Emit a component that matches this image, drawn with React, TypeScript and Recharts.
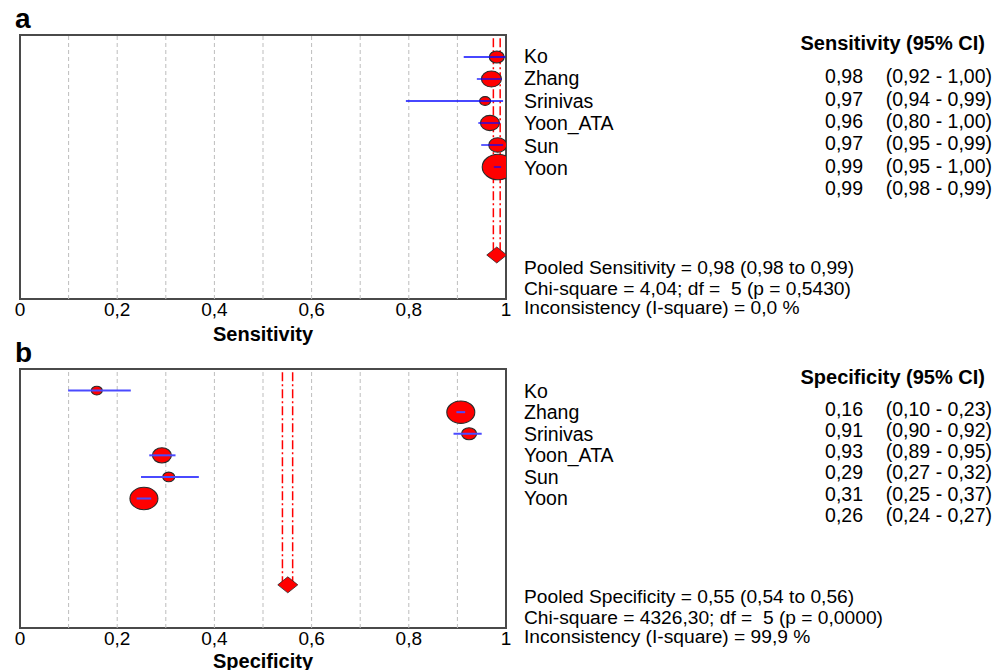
// Forest plots — pooled sensitivity / specificity across 6 studies.
import { ScatterChart, Scatter, XAxis, YAxis, ReferenceLine, ReferenceArea } from 'recharts';

const studies = ['Ko', 'Zhang', 'Srinivas', 'Yoon_ATA', 'Sun', 'Yoon'];
const rows = [1, 2, 3, 4, 5, 6];
const poolRow = 10;
const xTicks = [0, 0.2, 0.4, 0.6, 0.8, 1];
const gridX = [0.1, 0.2, 0.3, 0.4, 0.5, 0.6, 0.7, 0.8, 0.9];

// panel a — sensitivity (as plotted)
const sensEst = [0.981, 0.970, 0.957, 0.967, 0.983, 0.984];
const sensLo = [0.913, 0.940, 0.794, 0.943, 0.949, 0.975];
const sensHi = [0.999, 0.991, 0.994, 0.988, 0.994, 0.990];
const sensW = [15, 20, 11, 19, 18, 32];
const sensPool = [0.981, 0.974, 0.988]; // est, lo, hi
const sensVal = ['0,98', '0,97', '0,96', '0,97', '0,99', '0,99'];
const sensCI = ['(0,92 - 1,00)', '(0,94 - 0,99)', '(0,80 - 1,00)', '(0,95 - 0,99)', '(0,95 - 1,00)', '(0,98 - 0,99)'];
const sensStats = ['Pooled Sensitivity = 0,98 (0,98 to 0,99)', 'Chi-square = 4,04; df =  5 (p = 0,5430)', 'Inconsistency (I-square) = 0,0 %'];

// panel b — specificity
const specEst = [0.158, 0.907, 0.924, 0.292, 0.306, 0.255];
const specLo = [0.099, 0.898, 0.892, 0.266, 0.249, 0.240];
const specHi = [0.228, 0.916, 0.950, 0.320, 0.368, 0.270];
const specW = [11, 28, 15, 19, 12, 28];
const specPool = [0.551, 0.540, 0.561];
const specVal = ['0,16', '0,91', '0,93', '0,29', '0,31', '0,26'];
const specCI = ['(0,10 - 0,23)', '(0,90 - 0,92)', '(0,89 - 0,95)', '(0,27 - 0,32)', '(0,25 - 0,37)', '(0,24 - 0,27)'];
const specStats = ['Pooled Specificity = 0,55 (0,54 to 0,56)', 'Chi-square = 4326,30; df =  5 (p = 0,0000)', 'Inconsistency (I-square) = 99,9 %'];

const FONT = '"Liberation Sans", Arial, Helvetica, sans-serif';
const fmt = (v: number) => (v === 0 ? '0' : v === 1 ? '1' : v.toFixed(1).replace('.', ','));

const Bubble = (p: any) => {
  const rx = p.payload.w / 2;
  return <ellipse cx={p.cx} cy={p.cy} rx={rx} ry={rx * 0.8} fill="#ff0000" stroke="#2a2a2a" strokeWidth={1.1} />;
};
const Diamond = (p: any) => (
  <polygon
    points={`${p.cx - 10},${p.cy} ${p.cx},${p.cy - 8} ${p.cx + 10},${p.cy} ${p.cx},${p.cy + 8}`}
    fill="#ff0000"
    stroke="#2a2a2a"
    strokeWidth={0.8}
  />
);
const Nothing = () => <g />;

function Forest({ est, lo, hi, w, pool, title, ciColor, ciWidth, height, top, axisH, labelOffset }: any) {
  const pts = rows.map((r, i) => ({ x: est[i], y: r, w: w[i] }));
  return (
    <ScatterChart width={520} height={height} margin={{ top, right: 14, bottom: 0, left: 20 }}>
      <XAxis
        type="number"
        dataKey="x"
        domain={[0, 1]}
        allowDataOverflow
        ticks={xTicks}
        tickFormatter={fmt}
        tickLine={false}
        axisLine={false}
        tickSize={3}
        tickMargin={1}
        height={axisH}
        interval={0}
        tick={{ fontSize: 19, fill: '#000', fontFamily: FONT }}
        label={{ value: title, position: 'insideBottom', offset: labelOffset, fill: '#000', fontSize: 20, fontWeight: 'bold', fontFamily: FONT }}
      />
      <YAxis type="number" dataKey="y" domain={[0, 12]} reversed hide allowDataOverflow />
      <ReferenceArea x1={0} x2={1} y1={0} y2={12} fill="#fff" fillOpacity={0} stroke="#4a4a4a" strokeWidth={2} />
      {gridX.map((g) => (
        <ReferenceLine key={g} x={g} stroke="#bdbdbd" strokeDasharray="4 3" />
      ))}
      {[pool[1], pool[2]].map((px, k) => (
        <Scatter
          key={'pl' + k}
          data={[{ x: px, y: 0.15 }, { x: px, y: poolRow }]}
          shape={Nothing}
          line={{ stroke: '#ff0000', strokeWidth: 1.5, strokeDasharray: '9 3 2 3' }}
          isAnimationActive={false}
        />
      ))}
      <Scatter data={pts} shape={Bubble} isAnimationActive={false} />
      {rows.map((r, i) => (
        <Scatter
          key={'ci' + i}
          data={[{ x: lo[i], y: r }, { x: hi[i], y: r }]}
          shape={Nothing}
          line={{ stroke: ciColor, strokeWidth: ciWidth }}
          isAnimationActive={false}
        />
      ))}
      <Scatter data={[{ x: pool[0], y: poolRow }]} shape={Diamond} isAnimationActive={false} />
    </ScatterChart>
  );
}

function Side({ header, vals, cis, stats, nameY, nameStep, valY, valStep, headY, statY }: any) {
  return (
    <g fontFamily={FONT} fill="#000">
      <text x={985} y={headY} fontSize={20} fontWeight="bold" textAnchor="end">{header}</text>
      {studies.map((s, i) => (
        <text key={s} x={524} y={nameY + i * nameStep} fontSize={19.5}>{s}</text>
      ))}
      {vals.map((v: string, i: number) => (
        <g key={i}>
          <text x={863} y={valY + i * valStep} fontSize={19.5} textAnchor="end">{v}</text>
          <text x={992} y={valY + i * valStep} fontSize={19.5} textAnchor="end">{cis[i]}</text>
        </g>
      ))}
      {stats.map((t: string, i: number) => (
        <text key={t} x={524} y={statY[i]} fontSize={19.2} xmlSpace="preserve" style={{ whiteSpace: 'pre' }}>{t}</text>
      ))}
    </g>
  );
}

export default function App() {
  return (
    <div style={{ position: 'absolute', left: 0, top: 0, width: 1005, height: 670, background: '#fff', overflow: 'hidden' }}>
      <div style={{ position: 'absolute', left: 0, top: 0 }}>
        <Forest est={sensEst} lo={sensLo} hi={sensHi} w={sensW} pool={sensPool} title="Sensitivity"
          ciColor="#0a0aff" ciWidth={1.3} height={345} top={35} axisH={46} labelOffset={4} />
      </div>
      <div style={{ position: 'absolute', left: 0, top: 330 }}>
        <Forest est={specEst} lo={specLo} hi={specHi} w={specW} pool={specPool} title="Specificity"
          ciColor="#4a4aff" ciWidth={2} height={340} top={39} axisH={42} labelOffset={2} />
      </div>
      <svg width={1005} height={670} style={{ position: 'absolute', left: 0, top: 0, pointerEvents: 'none' }}>
        <text x={15} y={28} fontSize={28} fontWeight="bold" fontFamily={FONT}>a</text>
        <text x={15} y={362} fontSize={28} fontWeight="bold" fontFamily={FONT}>b</text>
        <Side header="Sensitivity (95% CI)" vals={sensVal} cis={sensCI} stats={sensStats}
          nameY={63} nameStep={22.4} valY={83.3} valStep={22.3} headY={50} statY={[274, 294.5, 314]} />
        <Side header="Specificity (95% CI)" vals={specVal} cis={specCI} stats={specStats}
          nameY={398} nameStep={21.4} valY={415.7} valStep={21.2} headY={384} statY={[603, 624, 643]} />
      </svg>
    </div>
  );
}
